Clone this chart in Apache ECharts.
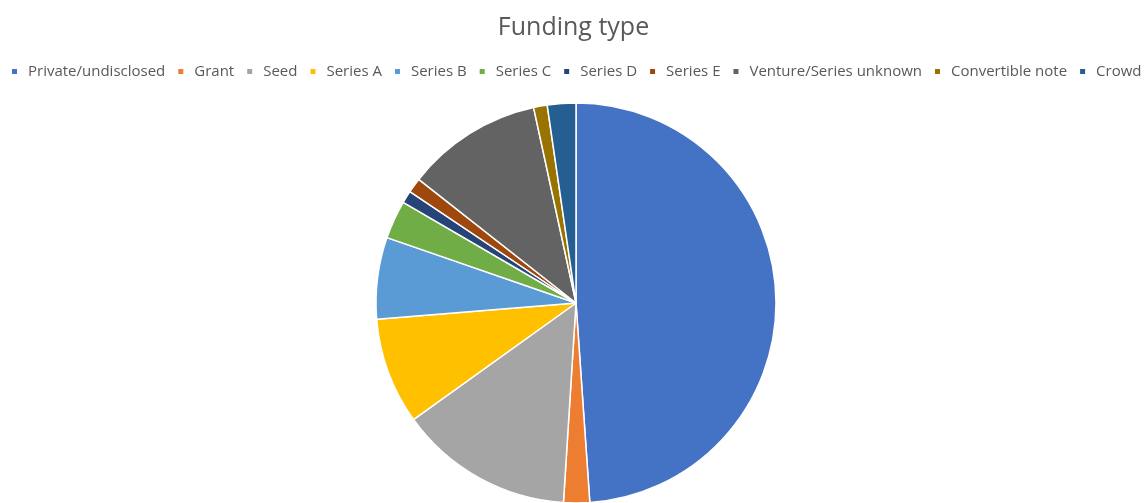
<!DOCTYPE html>
<html><head><meta charset="utf-8">
<script src="https://cdn.jsdelivr.net/npm/echarts@6/dist/echarts.min.js"></script>
<style>html,body{margin:0;padding:0;background:#fff}#c{width:1147px;height:503px}</style>
</head><body><div id="c"></div>
<script>
const categories = ["Private/undisclosed","Grant","Seed","Series A","Series B","Series C","Series D","Series E","Venture/Series unknown","Convertible note","Crowd"];
const values = [48.9, 2.1, 14.1, 8.6, 6.6, 3.1, 1.0, 1.2, 11.0, 1.1, 2.3];
const colors = ["#4472C4","#ED7D31","#A5A5A5","#FFC000","#5B9BD5","#70AD47","#264478","#9E480E","#636363","#997300","#255E91"];
const chart = echarts.init(document.getElementById('c'));
chart.setOption({
  animation:false,
  color: colors,
  title:{text:"Funding type", left:'center', top:10, textStyle:{fontFamily:"Open Sans", fontSize:25, fontWeight:'normal', color:'#595959'}},
  legend:{data:categories, left:10, top:64, width:1147, padding:0, itemWidth:7, itemHeight:7, itemGap:11, icon:'rect',
    textStyle:{fontFamily:"Open Sans", fontSize:15, color:'#595959', padding:[0,0,0,5]}},
  series:[{type:'pie', center:[576,303], radius:[0,200], startAngle:90, clockwise:true,
    label:{show:false}, labelLine:{show:false},
    itemStyle:{borderColor:'#fff', borderWidth:1.5},
    data: categories.map((n,i)=>({name:n, value:values[i]}))}]
});
</script></body></html>
